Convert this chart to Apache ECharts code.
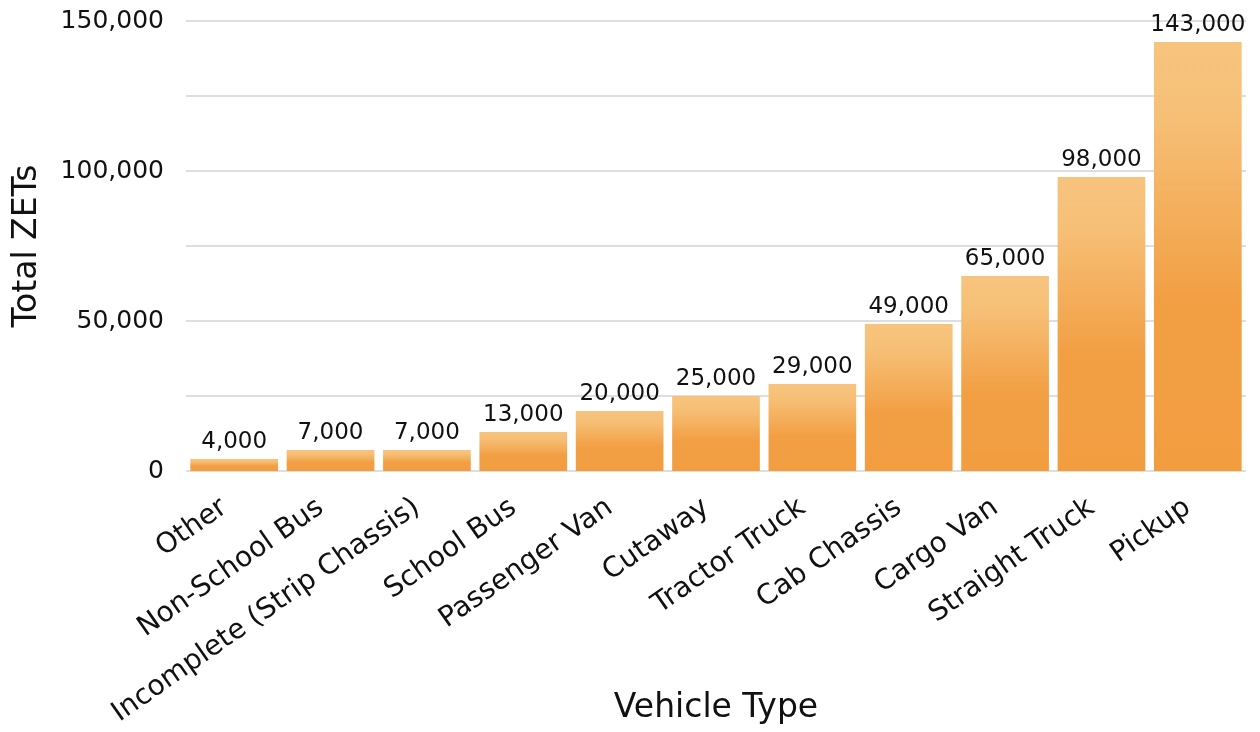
<!DOCTYPE html>
<html>
<head>
<meta charset="utf-8">
<script src="https://cdn.jsdelivr.net/npm/echarts@6/dist/echarts.min.js"></script>
<style>
  html, body { margin: 0; padding: 0; background: #ffffff; }
  #chart { width: 1260px; height: 732px; }
</style>
</head>
<body>
<div id="chart"></div>
<script>
// Vehicle types, ordered from fewest to most zero-emission trucks
const categories = [
  'Other', 'Non-School Bus', 'Incomplete (Strip Chassis)', 'School Bus',
  'Passenger Van', 'Cutaway', 'Tractor Truck', 'Cab Chassis',
  'Cargo Van', 'Straight Truck', 'Pickup'
];
const totalZETs = [4000, 7000, 7000, 13000, 20000, 25000, 29000, 49000, 65000, 98000, 143000];
const yTicks = [0, 50000, 100000, 150000];

const FONT = '"DejaVu Sans", "Noto Sans", sans-serif';
const fmt = v => v.toLocaleString('en-US');

const chart = echarts.init(document.getElementById('chart'), null, { renderer: 'canvas' });

chart.setOption({
  animation: false,
  backgroundColor: '#ffffff',
  grid: {
    left: 186, right: 14, top: 21, bottom: 261,
    containLabel: false,
    outerBoundsMode: 'none'
  },
  xAxis: {
    type: 'category',
    data: categories,
    name: 'Vehicle Type',
    nameLocation: 'middle',
    nameGap: 221,
    nameMoveOverlap: false,
    nameTextStyle: { fontFamily: FONT, fontSize: 33, color: '#111111' },
    axisLine: { show: false },
    axisTick: { show: false },
    axisLabel: {
      rotate: 35,
      interval: 0,
      margin: 27,
      padding: [0, 12, 0, 0],
      fontFamily: FONT,
      fontSize: 28,
      color: '#111111'
    }
  },
  yAxis: {
    type: 'value',
    min: 0,
    max: 150000,
    interval: 25000,
    name: 'Total ZETs',
    nameLocation: 'middle',
    nameGap: 142,
    nameRotate: 90,
    nameMoveOverlap: false,
    nameTextStyle: { fontFamily: FONT, fontSize: 33, color: '#111111' },
    axisLine: { show: false },
    axisTick: { show: false },
    splitLine: { show: true, lineStyle: { color: '#dedede', width: 2 } },
    axisLabel: {
      margin: 22,
      fontFamily: FONT,
      fontSize: 25,
      color: '#111111',
      formatter: v => (yTicks.indexOf(v) >= 0 ? fmt(v) : '')
    }
  },
  series: [{
    type: 'bar',
    data: totalZETs,
    barCategoryGap: '9%',
    itemStyle: {
      color: new echarts.graphic.LinearGradient(0, 0, 0, 1, [
        { offset: 0, color: '#f7c47e' },
        { offset: 0.18, color: '#f6bf76' },
        { offset: 0.6, color: '#f29f44' },
        { offset: 1, color: '#f29d40' }
      ])
    },
    label: {
      show: true,
      position: 'top',
      distance: 5,
      fontFamily: FONT,
      fontSize: 23,
      color: '#111111',
      formatter: p => fmt(p.value)
    }
  }]
});
</script>
</body>
</html>
